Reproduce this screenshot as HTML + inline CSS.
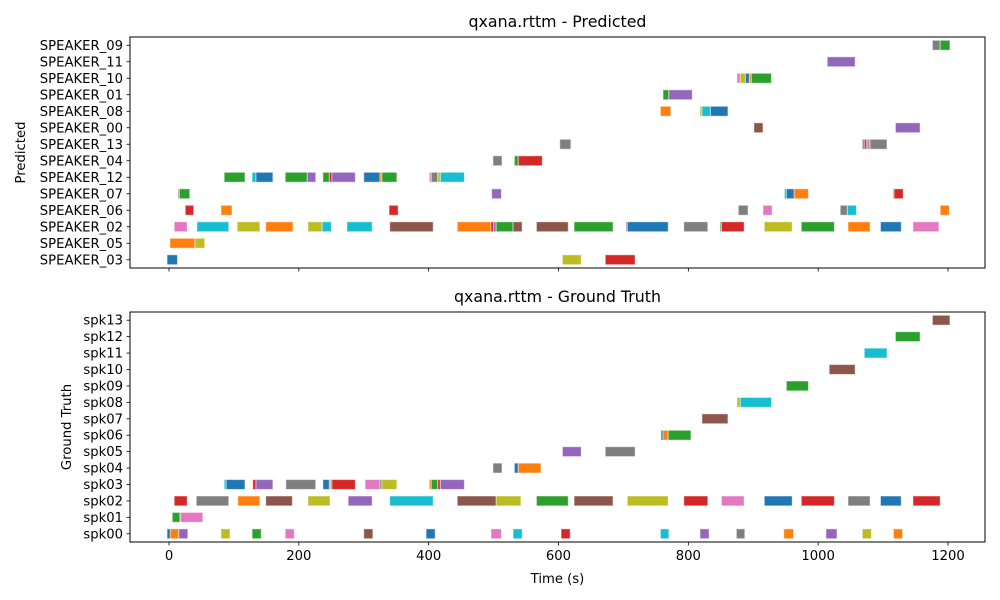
<!DOCTYPE html>
<html><head><meta charset="utf-8"><style>
html,body{margin:0;padding:0;background:#fff;}
svg{display:block;font-family:"DejaVu Sans","Liberation Sans",sans-serif;}
</style></head><body>
<svg id="chart" width="1000" height="600" viewBox="0 0 1000 600" xmlns="http://www.w3.org/2000/svg"></svg>
<script>
const xTicks = [0, 200, 400, 600, 800, 1000, 1200];
const predRows = ["SPEAKER_09","SPEAKER_11","SPEAKER_10","SPEAKER_01","SPEAKER_08","SPEAKER_00","SPEAKER_13","SPEAKER_04","SPEAKER_12","SPEAKER_07","SPEAKER_06","SPEAKER_02","SPEAKER_05","SPEAKER_03"];
const gtRows = ["spk13","spk12","spk11","spk10","spk09","spk08","spk07","spk06","spk05","spk04","spk03","spk02","spk01","spk00"];
// [row label, start (s), end (s), color]
const predSegments = [
["SPEAKER_03",-3,13,"b"],["SPEAKER_03",606,635,"ol"],["SPEAKER_03",672,718,"r"],
["SPEAKER_05",1.5,40,"o"],["SPEAKER_05",40,55,"ol"],
["SPEAKER_02",8,28,"pk"],["SPEAKER_02",43,92,"c"],["SPEAKER_02",105,140,"ol"],["SPEAKER_02",149,191,"o"],["SPEAKER_02",214,236,"ol"],["SPEAKER_02",236,250,"c"],["SPEAKER_02",274,313,"c"],["SPEAKER_02",340,407,"br"],["SPEAKER_02",444,496,"o"],["SPEAKER_02",496,500,"r"],["SPEAKER_02",500,504,"p"],["SPEAKER_02",504,530,"g"],["SPEAKER_02",530,544,"br"],["SPEAKER_02",566,615,"br"],["SPEAKER_02",624,684,"g"],["SPEAKER_02",704,706,"p"],["SPEAKER_02",706,769,"b"],["SPEAKER_02",793,830,"gy"],["SPEAKER_02",849,851,"g"],["SPEAKER_02",851,886,"r"],["SPEAKER_02",917,960,"ol"],["SPEAKER_02",974,1025,"g"],["SPEAKER_02",1046,1080,"o"],["SPEAKER_02",1096,1128,"b"],["SPEAKER_02",1146,1186,"pk"],
["SPEAKER_06",25,38,"r"],["SPEAKER_06",80,97,"o"],["SPEAKER_06",339,353,"r"],["SPEAKER_06",877,892,"gy"],["SPEAKER_06",915,929,"pk"],["SPEAKER_06",1034,1045,"gy"],["SPEAKER_06",1045,1059,"c"],["SPEAKER_06",1188,1202,"o"],
["SPEAKER_07",14,16,"gy"],["SPEAKER_07",16,32,"g"],["SPEAKER_07",497,512,"p"],["SPEAKER_07",948,951,"c"],["SPEAKER_07",951,963,"b"],["SPEAKER_07",963,985,"o"],["SPEAKER_07",1115,1117,"o"],["SPEAKER_07",1117,1131,"r"],
["SPEAKER_12",85,117,"g"],["SPEAKER_12",128,134,"c"],["SPEAKER_12",134,160,"b"],["SPEAKER_12",179,213,"g"],["SPEAKER_12",213,226,"p"],["SPEAKER_12",237,247,"g"],["SPEAKER_12",247,251,"r"],["SPEAKER_12",251,287,"p"],["SPEAKER_12",300,325,"b"],["SPEAKER_12",325,328,"o"],["SPEAKER_12",328,351,"g"],["SPEAKER_12",401,404,"pk"],["SPEAKER_12",404,414,"gy"],["SPEAKER_12",414,418,"ol"],["SPEAKER_12",418,455,"c"],
["SPEAKER_04",499,513,"gy"],["SPEAKER_04",532,538,"g"],["SPEAKER_04",538,575,"r"],
["SPEAKER_13",602,619,"gy"],["SPEAKER_13",1068,1071,"p"],["SPEAKER_13",1071,1075,"br"],["SPEAKER_13",1075,1080,"pk"],["SPEAKER_13",1080,1106,"gy"],
["SPEAKER_00",901,915,"br"],["SPEAKER_00",1119,1157,"p"],
["SPEAKER_08",757,773,"o"],["SPEAKER_08",818,821,"ol"],["SPEAKER_08",821,834,"c"],["SPEAKER_08",834,861,"b"],
["SPEAKER_01",761,770,"g"],["SPEAKER_01",770,806,"p"],
["SPEAKER_10",875,880,"pk"],["SPEAKER_10",880,888,"ol"],["SPEAKER_10",888,894,"b"],["SPEAKER_10",894,897,"o"],["SPEAKER_10",897,928,"g"],
["SPEAKER_11",1014,1057,"p"],
["SPEAKER_09",1176,1188,"gy"],["SPEAKER_09",1188,1203,"g"]
];
const gtSegments = [
["spk13",1176,1203,"br"],["spk12",1119,1157,"g"],["spk11",1071,1106,"c"],["spk10",1017,1057,"br"],["spk09",951,985,"g"],
["spk08",875,880,"ol"],["spk08",880,928,"c"],["spk07",821,861,"br"],
["spk06",758,761,"b"],["spk06",761,769,"o"],["spk06",769,804,"g"],
["spk05",606,635,"p"],["spk05",672,718,"gy"],
["spk04",499,513,"gy"],["spk04",532,538,"b"],["spk04",538,573,"o"],
["spk03",85,88,"c"],["spk03",88,117,"b"],["spk03",129,134,"r"],["spk03",134,160,"p"],["spk03",180,226,"gy"],["spk03",237,247,"b"],["spk03",247,249,"o"],["spk03",249,251,"g"],["spk03",251,287,"r"],["spk03",302,325,"pk"],["spk03",325,328,"gy"],["spk03",328,351,"ol"],["spk03",401,404,"o"],["spk03",404,414,"g"],["spk03",414,418,"r"],["spk03",418,455,"p"],
["spk02",8,28,"r"],["spk02",42,92,"gy"],["spk02",106,140,"o"],["spk02",149,190,"br"],["spk02",214,248,"ol"],["spk02",276,313,"p"],["spk02",340,407,"c"],["spk02",444,504,"br"],["spk02",504,542,"ol"],["spk02",566,615,"g"],["spk02",624,684,"br"],["spk02",706,769,"ol"],["spk02",793,830,"r"],["spk02",851,886,"pk"],["spk02",917,960,"b"],["spk02",974,1025,"r"],["spk02",1046,1080,"gy"],["spk02",1096,1128,"b"],["spk02",1146,1188,"r"],
["spk01",5,17,"g"],["spk01",17,18,"br"],["spk01",18,52,"pk"],
["spk00",-3,2,"b"],["spk00",2,15,"o"],["spk00",15,29,"p"],["spk00",80,94,"ol"],["spk00",128,142,"g"],["spk00",179,193,"pk"],["spk00",300,314,"br"],["spk00",396,410,"b"],["spk00",496,512,"pk"],["spk00",530,544,"c"],["spk00",604,618,"r"],["spk00",757,770,"c"],["spk00",818,832,"p"],["spk00",874,887,"gy"],["spk00",947,962,"o"],["spk00",1012,1029,"p"],["spk00",1068,1082,"ol"],["spk00",1116,1130,"o"]
];
const palette = {b:"#1f77b4",o:"#ff7f0e",g:"#2ca02c",r:"#d62728",p:"#9467bd",br:"#8c564b",pk:"#e377c2",gy:"#7f7f7f",ol:"#bcbd22",c:"#17becf"};

const NS = "http://www.w3.org/2000/svg";
const svg = document.getElementById("chart");
const L = 130, R = 985, XMIN = -60.1, XMAX = 1257;
function xScale(v){ return L + (v - XMIN) / (XMAX - XMIN) * (R - L); }
function mk(tag, attrs, parent){ const e = document.createElementNS(NS, tag); for (const k in attrs) e.setAttribute(k, attrs[k]); (parent||svg).appendChild(e); return e; }

function drawPanel(rows, segs, top, bottom, title, ylabel, ylabelX, showX, key){
  const g = mk("g", {});
  
  
  const n = rows.length, step = (bottom - top) / n;
  function yScale(label){ return top + (rows.indexOf(label) + 0.5) * step; }
  const bh = step * 0.6;
  for (const s of segs){
    const r = mk("rect", {x: xScale(s[1]), y: yScale(s[0]) - bh/2, width: Math.max(0.5, xScale(s[2]) - xScale(s[1])), height: bh, fill: palette[s[3]], stroke: "#ffffff", "stroke-opacity": 0.5, "stroke-width": 1}, g);
    
    
  }
  const frame = mk("rect", {x: L, y: top, width: R - L, height: bottom - top, fill: "none", stroke: "#000", "stroke-width": 1}, g);
  
  
  for (const lab of rows){
    const y = yScale(lab);
    mk("line", {x1: L - 3.5, x2: L, y1: y, y2: y, stroke: "#000", "stroke-width": 0.8}, g);
    const t = mk("text", {x: L - 7, y: y + 4.5, "text-anchor": "end", "font-size": 13.2, fill: "#000"}, g);
    t.textContent = lab;
    
    
  }
  for (const v of xTicks){
    const x = xScale(v);
    mk("line", {x1: x, x2: x, y1: bottom, y2: bottom + 3.5, stroke: "#000", "stroke-width": 0.8}, g);
    if (showX){
      const t = mk("text", {x: x, y: bottom + 18, "text-anchor": "middle", "font-size": 13.2, fill: "#000"}, g);
      t.textContent = v;
      
      
    }
  }
  const tt = mk("text", {x: (L + R) / 2, y: top - 10, "text-anchor": "middle", "font-size": 15.8, fill: "#000"}, g);
  tt.textContent = title;
  
  
  const yl = mk("text", {x: ylabelX, y: (top + bottom) / 2, "text-anchor": "middle", "font-size": 13.2, fill: "#000", transform: "rotate(-90 " + ylabelX + " " + (top + bottom) / 2 + ")"}, g);
  yl.textContent = ylabel;
  
  
}
drawPanel(predRows, predSegments, 37, 268, "qxana.rttm - Predicted", "Predicted", 25, false, "predicted");
drawPanel(gtRows, gtSegments, 312, 542, "qxana.rttm - Ground Truth", "Ground Truth", 71, true, "ground-truth");
const xl = mk("text", {x: (L + R) / 2, y: 583, "text-anchor": "middle", "font-size": 13.2, fill: "#000"});
xl.textContent = "Time (s)";


</script>
</body></html>
